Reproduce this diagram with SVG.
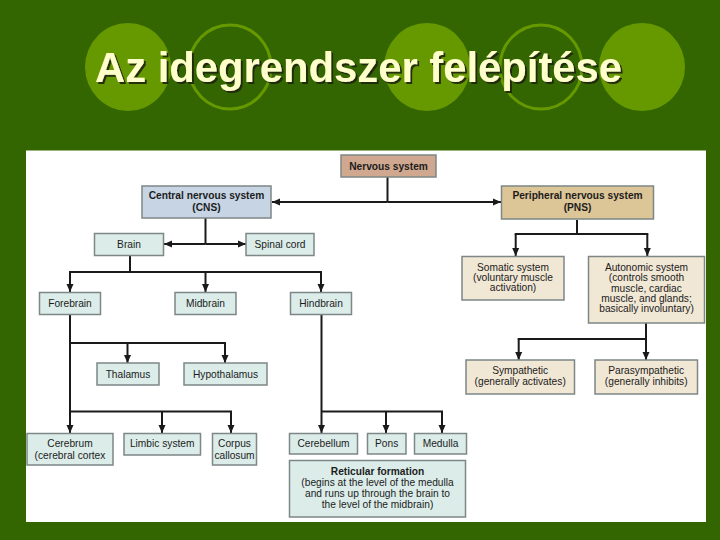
<svg xmlns="http://www.w3.org/2000/svg" width="720" height="540" viewBox="0 0 720 540">
<style>
.t{font-family:"Liberation Sans",Arial,sans-serif;font-size:10.2px;fill:#1c1c1c;text-anchor:middle}
.b{font-weight:bold}
.box{stroke:#7e8686;stroke-width:1.5}
.teal{fill:#dbece9}
.beige{fill:#f1e7d5}
.c{fill:none;stroke:#1a1a1a;stroke-width:2}
.title{font-family:"Liberation Sans",Arial,sans-serif;font-size:42px;font-weight:bold}
</style>
<defs>
<marker id="ah" markerUnits="userSpaceOnUse" markerWidth="8" markerHeight="8" refX="8" refY="4" orient="auto">
<path d="M0,0.5 L8,4 L0,7.5 z" fill="#1a1a1a"/>
</marker>
<filter id="sh" x="-5%" y="-20%" width="110%" height="140%">
<feDropShadow dx="2" dy="2" stdDeviation="0.6" flood-color="#1a2410" flood-opacity="0.9"/>
</filter>
</defs>
<rect x="0" y="0" width="720" height="540" fill="#336600"/>
<g id="title-decor">
<ellipse cx="128" cy="67" rx="43" ry="44" fill="#669900"/>
<ellipse cx="230" cy="67" rx="41" ry="42" fill="none" stroke="#669900" stroke-width="3"/>
<ellipse cx="427" cy="67" rx="43" ry="44" fill="#669900"/>
<ellipse cx="541" cy="67" rx="41" ry="42" fill="none" stroke="#669900" stroke-width="3"/>
<ellipse cx="642" cy="67" rx="43" ry="44" fill="#669900"/>
</g>
<g id="title">
<text class="title" x="95" y="82" fill="#ffffcc" filter="url(#sh)" textLength="527" lengthAdjust="spacingAndGlyphs">Az idegrendszer felépítése</text>
</g>
<rect x="26" y="150.5" width="680" height="371.5" fill="#ffffff"/>
<g id="connectors">
<path class="c" d="M387.5,177 V202"/>
<path class="c" d="M387.5,202 H272" marker-end="url(#ah)"/>
<path class="c" d="M387.5,202 H501" marker-end="url(#ah)"/>
<path class="c" d="M205.5,218 V244"/>
<path class="c" d="M205.5,244 H164" marker-end="url(#ah)"/>
<path class="c" d="M205.5,244 H246" marker-end="url(#ah)"/>
<path class="c" d="M130,255.5 V272 M69,272 H322"/>
<path class="c" d="M70,272 V292" marker-end="url(#ah)"/>
<path class="c" d="M205.5,272 V292" marker-end="url(#ah)"/>
<path class="c" d="M321,272 V292" marker-end="url(#ah)"/>
<path class="c" d="M70,314.5 V433" marker-end="url(#ah)"/>
<path class="c" d="M70,343 H226"/>
<path class="c" d="M127.5,343 V363" marker-end="url(#ah)"/>
<path class="c" d="M225,343 V363" marker-end="url(#ah)"/>
<path class="c" d="M70,411.5 H232"/>
<path class="c" d="M162,411.5 V433" marker-end="url(#ah)"/>
<path class="c" d="M231,411.5 V433" marker-end="url(#ah)"/>
<path class="c" d="M321.5,314.5 V433" stroke-width="3" marker-end="url(#ah)"/>
<path class="c" d="M321.5,411.5 H443"/>
<path class="c" d="M386,411.5 V433" marker-end="url(#ah)"/>
<path class="c" d="M442,411.5 V433" marker-end="url(#ah)"/>
<path class="c" d="M577,220 V234 M514.7,234 H648.3"/>
<path class="c" d="M515.7,234 V256" marker-end="url(#ah)"/>
<path class="c" d="M647.3,234 V256" marker-end="url(#ah)"/>
<path class="c" d="M646,323 V339 M517.7,339 H647"/>
<path class="c" d="M518.7,339 V360" marker-end="url(#ah)"/>
<path class="c" d="M646,339 V360" marker-end="url(#ah)"/>
</g>
<g id="nervous-system">
<rect class="box" x="341" y="155" width="95" height="22" fill="#d0a890"/>
<text class="t b" x="388.5" y="169.5">Nervous system</text>
</g>
<g id="cns">
<rect class="box" x="142" y="186" width="129" height="32" fill="#c6d4e4"/>
<text class="t b" x="206.5" y="199.3">Central nervous system</text>
<text class="t b" x="206.5" y="211">(CNS)</text>
</g>
<g id="pns">
<rect class="box" x="501.5" y="186" width="152" height="33" fill="#dcc597"/>
<text class="t b" x="577.5" y="199.3">Peripheral nervous system</text>
<text class="t b" x="577.5" y="211">(PNS)</text>
</g>
<g id="brain">
<rect class="box teal" x="94.5" y="233.5" width="69" height="22"/>
<text class="t" x="129" y="248">Brain</text>
</g>
<g id="spinal-cord">
<rect class="box teal" x="246" y="233.5" width="68" height="22"/>
<text class="t" x="280" y="248">Spinal cord</text>
</g>
<g id="forebrain">
<rect class="box teal" x="39.5" y="292.5" width="61" height="22"/>
<text class="t" x="70" y="307">Forebrain</text>
</g>
<g id="midbrain">
<rect class="box teal" x="175" y="292.5" width="61" height="22"/>
<text class="t" x="205.5" y="307">Midbrain</text>
</g>
<g id="hindbrain">
<rect class="box teal" x="290.5" y="292.5" width="61" height="22"/>
<text class="t" x="321" y="307">Hindbrain</text>
</g>
<g id="thalamus">
<rect class="box teal" x="97" y="363" width="62" height="22"/>
<text class="t" x="128" y="377.5">Thalamus</text>
</g>
<g id="hypothalamus">
<rect class="box teal" x="184" y="363" width="83" height="22"/>
<text class="t" x="225.5" y="377.5">Hypothalamus</text>
</g>
<g id="cerebrum">
<rect class="box teal" x="27" y="433.5" width="86" height="31.5"/>
<text class="t" x="70" y="447">Cerebrum</text>
<text class="t" x="70" y="458.5">(cerebral cortex</text>
</g>
<g id="limbic-system">
<rect class="box teal" x="124" y="433.5" width="76.5" height="21.5"/>
<text class="t" x="162.2" y="447">Limbic system</text>
</g>
<g id="corpus-callosum">
<rect class="box teal" x="212.5" y="433.5" width="44" height="31.5"/>
<text class="t" x="234.5" y="447">Corpus</text>
<text class="t" x="234.5" y="458.5">callosum</text>
</g>
<g id="cerebellum">
<rect class="box teal" x="289.5" y="433.5" width="68" height="20.5"/>
<text class="t" x="323.5" y="447">Cerebellum</text>
</g>
<g id="pons">
<rect class="box teal" x="367.5" y="433.5" width="38.5" height="20.5"/>
<text class="t" x="386.7" y="447">Pons</text>
</g>
<g id="medulla">
<rect class="box teal" x="414.5" y="433.5" width="52" height="20.5"/>
<text class="t" x="440.5" y="447">Medulla</text>
</g>
<g id="reticular-formation">
<rect class="box teal" x="289.5" y="460.5" width="176" height="56.5"/>
<text class="t b" x="377.5" y="474.5">Reticular formation</text>
<text class="t" x="377.5" y="485.8">(begins at the level of the medulla</text>
<text class="t" x="377.5" y="496.8">and runs up through the brain to</text>
<text class="t" x="377.5" y="507.5">the level of the midbrain)</text>
</g>
<g id="somatic-system">
<rect class="box beige" x="462" y="256.5" width="102" height="43.5"/>
<text class="t" x="513" y="271">Somatic system</text>
<text class="t" x="513" y="281.2">(voluntary muscle</text>
<text class="t" x="513" y="291.4">activation)</text>
</g>
<g id="autonomic-system">
<rect class="box beige" x="588.5" y="256.5" width="116" height="66.5"/>
<text class="t" x="646.5" y="271">Autonomic system</text>
<text class="t" x="646.5" y="281.3">(controls smooth</text>
<text class="t" x="646.5" y="291.5">muscle, cardiac</text>
<text class="t" x="646.5" y="301.8">muscle, and glands;</text>
<text class="t" x="646.5" y="312">basically involuntary)</text>
</g>
<g id="sympathetic">
<rect class="box beige" x="466" y="360" width="108.5" height="34"/>
<text class="t" x="520.2" y="374.2">Sympathetic</text>
<text class="t" x="520.2" y="385.2">(generally activates)</text>
</g>
<g id="parasympathetic">
<rect class="box beige" x="595" y="360" width="102.5" height="34"/>
<text class="t" x="646.2" y="374.2">Parasympathetic</text>
<text class="t" x="646.2" y="385.2">(generally inhibits)</text>
</g>
</svg>
